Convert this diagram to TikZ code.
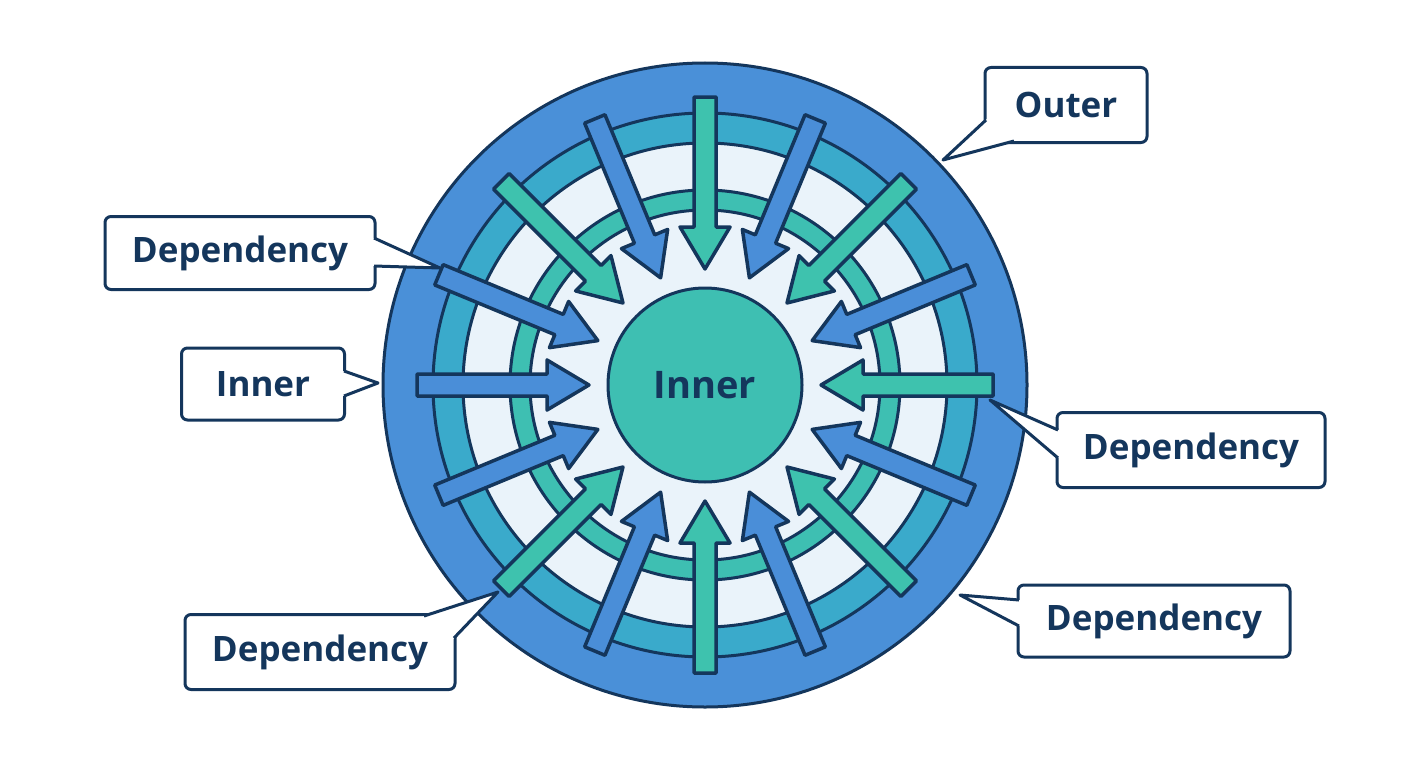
\documentclass[tikz,border=0pt]{standalone}
\usepackage{fontspec}
\setmainfont{Open Sans}
\definecolor{nav}{HTML}{14365C}
\definecolor{oblue}{HTML}{4A90D8}
\definecolor{cring}{HTML}{3AAACB}
\definecolor{tring}{HTML}{3EBFB2}
\definecolor{lite}{HTML}{EAF3FA}
\definecolor{ablue}{HTML}{4A8ED8}
\definecolor{ateal}{HTML}{3EC2AE}
\begin{document}
\begin{tikzpicture}[x=1pt,y=-1pt,line join=round,
  ring/.style={draw=nav,line width=3pt},
  arr/.style={draw=nav,line width=3.5pt},
  lbl/.style={font=\fontsize{35}{40}\selectfont\bfseries,text=nav},
  box/.style={draw=nav,line width=3pt,fill=white,rounded corners=6pt}]
\useasboundingbox (0,0) rectangle (1408,768);
\fill[white] (0,0) rectangle (1408,768);
\coordinate (c) at (705,385);
\draw[ring,fill=oblue] (c) circle (322);
\draw[ring,fill=cring] (c) circle (272);
\draw[ring,fill=lite] (c) circle (242);
\draw[ring,fill=tring] (c) circle (195);
\draw[ring,fill=lite] (c) circle (175);
\foreach \a/\col in {90/ateal,112.5/ablue,135/ateal,157.5/ablue,180/ablue,202.5/ablue,225/ateal,247.5/ablue,270/ateal,292.5/ablue,315/ateal,337.5/ablue,0/ateal,22.5/ablue,45/ateal,67.5/ablue}{
  \begin{scope}[shift={(c)},rotate=\a]
  \draw[arr,fill=\col] (288,-11) -- (158,-11) -- (158,-25) -- (116,0) -- (158,25) -- (158,11) -- (288,11) -- cycle;
  \end{scope}
}
\node[draw=nav,line width=3pt,fill=tring,circle,minimum size=194pt,inner sep=0pt,lbl,font=\fontsize{38}{42}\selectfont\bfseries] (hub) at (c) {Inner};
% callouts
\node[box,lbl,minimum width=162pt,minimum height=75pt] (bo) at (1066,105) {Outer};
\node[box,lbl,minimum width=270pt,minimum height=73pt] (bd1) at (240,253) {Dependency};
\node[box,lbl,minimum width=163pt,minimum height=72pt] (bi) at (263,384) {Inner};
\node[box,lbl,minimum width=268pt,minimum height=75pt] (bd2) at (1191,450) {Dependency};
\node[box,lbl,minimum width=272pt,minimum height=72pt] (bd3) at (1154,621) {Dependency};
\node[box,lbl,minimum width=270pt,minimum height=75pt] (bd4) at (320,652) {Dependency};
\coordinate (to) at (943,160);
\coordinate (td1) at (440,268);
\coordinate (ti) at (378,383);
\coordinate (td2) at (990,400);
\coordinate (td3) at (960,595);
\coordinate (td4) at (498,592);
\newcommand\ptr[3]{%
  \fill[white] #1 -- (#3) -- #2 -- cycle;
  \draw[white,line width=4pt] #1 -- #2;
  \draw[nav,line width=3pt] #1 -- (#3) -- #2;}
\ptr{(986,120)}{(1014,141)}{to}
\ptr{(374,238)}{(374,266)}{td1}
\ptr{(344,371)}{(344,396)}{ti}
\ptr{(1058,430)}{(1058,458)}{td2}
\ptr{(1019,600)}{(1019,626)}{td3}
\ptr{(424,616)}{(454,638)}{td4}
\end{tikzpicture}
\end{document}
